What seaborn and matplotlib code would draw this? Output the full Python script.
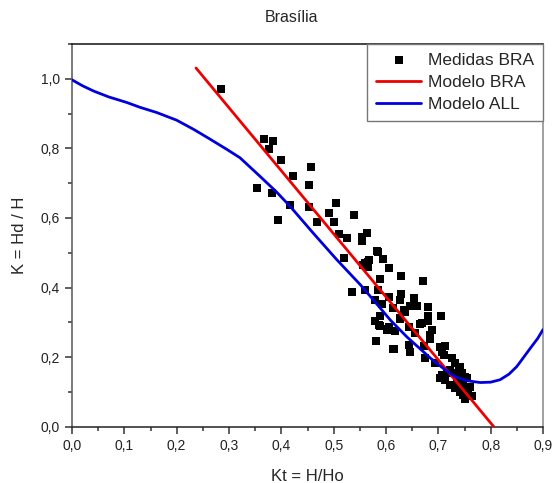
import matplotlib
matplotlib.use("Agg")
import matplotlib.pyplot as plt
import seaborn as sns
import pandas as pd
from matplotlib.ticker import MultipleLocator, FixedLocator, FixedFormatter

# ---- data ----
kt_meas = [0.285, 0.367, 0.385, 0.377, 0.400, 0.457, 0.423, 0.353, 0.383, 0.452,
           0.417, 0.453, 0.393, 0.505, 0.491, 0.500, 0.468, 0.539, 0.511, 0.526,
           0.554, 0.563, 0.554, 0.584, 0.594, 0.568, 0.559, 0.565, 0.520, 0.606,
           0.628, 0.671, 0.589, 0.535, 0.559, 0.584, 0.606, 0.628, 0.579, 0.592,
           0.626, 0.654, 0.646, 0.660, 0.681, 0.614, 0.634, 0.706, 0.681, 0.589,
           0.579, 0.626, 0.588, 0.605, 0.643, 0.665, 0.653, 0.637, 0.627, 0.669,
           0.681, 0.602, 0.618, 0.656, 0.688, 0.685, 0.615, 0.643, 0.646, 0.672,
           0.675, 0.704, 0.710, 0.726, 0.694, 0.742, 0.723, 0.734, 0.707, 0.751,
           0.685, 0.713, 0.707, 0.732, 0.739, 0.745, 0.755, 0.716, 0.713, 0.703,
           0.723, 0.732, 0.742, 0.748, 0.757, 0.761, 0.748, 0.735, 0.581, 0.613,
           0.586, 0.603, 0.560, 0.565, 0.557, 0.583, 0.750, 0.765]
k_meas = [0.970, 0.828, 0.820, 0.798, 0.767, 0.747, 0.721, 0.685, 0.671, 0.695,
          0.636, 0.632, 0.595, 0.643, 0.614, 0.589, 0.588, 0.609, 0.554, 0.543,
          0.545, 0.557, 0.533, 0.501, 0.483, 0.478, 0.471, 0.459, 0.485, 0.455,
          0.432, 0.418, 0.425, 0.386, 0.394, 0.394, 0.373, 0.382, 0.365, 0.354,
          0.365, 0.365, 0.348, 0.346, 0.344, 0.341, 0.336, 0.319, 0.319, 0.317,
          0.303, 0.309, 0.290, 0.288, 0.288, 0.296, 0.370, 0.331, 0.312, 0.298,
          0.303, 0.279, 0.274, 0.269, 0.279, 0.252, 0.223, 0.235, 0.216, 0.231,
          0.197, 0.229, 0.207, 0.197, 0.183, 0.173, 0.163, 0.154, 0.149, 0.144,
          0.264, 0.232, 0.216, 0.183, 0.163, 0.154, 0.139, 0.154, 0.135, 0.139,
          0.120, 0.111, 0.101, 0.091, 0.101, 0.115, 0.120, 0.130, 0.245, 0.224,
          0.293, 0.280, 0.394, 0.473, 0.466, 0.504, 0.080, 0.088]

kt_bra = [0.237, 0.806]
k_bra = [1.031, 0.0]

kt_all = [0.0, 0.02, 0.041, 0.07, 0.1045, 0.13, 0.162, 0.20, 0.232, 0.26,
          0.296, 0.321, 0.359, 0.39, 0.417, 0.46, 0.506, 0.551, 0.58, 0.608,
          0.64, 0.685, 0.71, 0.732, 0.755, 0.780, 0.80, 0.818, 0.835, 0.850,
          0.876, 0.89, 0.900]
k_all = [0.997, 0.980, 0.965, 0.948, 0.932, 0.918, 0.903, 0.881, 0.855, 0.830,
         0.797, 0.773, 0.720, 0.676, 0.633, 0.558, 0.480, 0.408, 0.357, 0.307,
         0.258, 0.197, 0.167, 0.144, 0.132, 0.127, 0.128, 0.135, 0.151, 0.173,
         0.226, 0.254, 0.279]

x_ticks = [0.0, 0.1, 0.2, 0.3, 0.4, 0.5, 0.6, 0.7, 0.8, 0.9]
x_tick_labels = ["0,0", "0,1", "0,2", "0,3", "0,4", "0,5", "0,6", "0,7", "0,8", "0,9"]
y_ticks = [0.0, 0.2, 0.4, 0.6, 0.8, 1.0]
y_tick_labels = ["0,0", "0,2", "0,4", "0,6", "0,8", "1,0"]

sns.set_style("ticks")
plt.rcParams['font.family'] = ['Liberation Sans', 'DejaVu Sans']

fig = plt.figure(figsize=(5.55, 4.83), dpi=100)
ax = fig.add_axes([72/555, 1-426.7/483, (543-72)/555, (426.7-44)/483])

df_meas = pd.DataFrame({"Kt": kt_meas, "K": k_meas})
df_bra = pd.DataFrame({"Kt": kt_bra, "K": k_bra})
df_all = pd.DataFrame({"Kt": kt_all, "K": k_all})

sns.scatterplot(data=df_meas, x="Kt", y="K", marker="s", s=34, color="black",
                linewidth=0, ax=ax, label="Medidas BRA", zorder=2)
sns.lineplot(data=df_bra, x="Kt", y="K", color="#ee0000", linewidth=2.0, ax=ax,
             label="Modelo BRA", sort=False, zorder=3)
sns.lineplot(data=df_all, x="Kt", y="K", color="#0000dd", linewidth=2.0, ax=ax,
             label="Modelo ALL", sort=False, zorder=4)

ax.set_xlim(0, 0.9)
ax.set_ylim(0, 1.1)
ax.xaxis.set_major_locator(FixedLocator(x_ticks))
ax.xaxis.set_major_formatter(FixedFormatter(x_tick_labels))
ax.yaxis.set_major_locator(FixedLocator(y_ticks))
ax.yaxis.set_major_formatter(FixedFormatter(y_tick_labels))
ax.xaxis.set_minor_locator(MultipleLocator(0.05))
ax.yaxis.set_minor_locator(MultipleLocator(0.1))
ax.tick_params(which="major", direction="out", length=5, width=1.1, labelsize=10,
               colors="#333333", labelcolor="#222222", top=False, right=False)
ax.tick_params(which="minor", direction="out", length=3, width=1.1,
               colors="#333333", top=False, right=False)

for side in ["left", "bottom", "top", "right"]:
    ax.spines[side].set_visible(True)
    ax.spines[side].set_linewidth(1.1)
ax.spines["left"].set_color("#555555")
ax.spines["bottom"].set_color("#222222")
ax.spines["top"].set_color("#111111")
ax.spines["right"].set_color("#888888")

ax.set_xlabel("Kt = H/Ho", fontsize=12, labelpad=12)
ax.set_ylabel("K = Hd / H", fontsize=12, labelpad=10)
fig.text(292/555, 1-17/483, "Brasília", fontsize=11.5, ha="center", va="center")

leg = ax.legend(loc="upper right", bbox_to_anchor=(1.0, 1.0), borderaxespad=0,
                fontsize=12.5, frameon=True, fancybox=False, framealpha=1,
                edgecolor="#777777", handlelength=2.6, handletextpad=0.4,
                labelspacing=0.4, borderpad=0.5)
leg.get_frame().set_linewidth(1.0)

fig.savefig("out.png", dpi=100)
